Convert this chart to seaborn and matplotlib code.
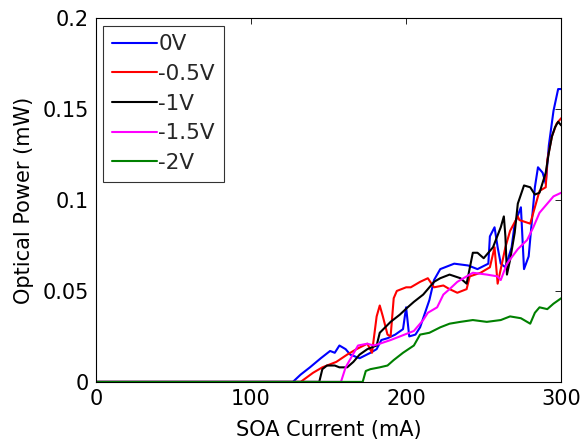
import matplotlib
matplotlib.use("Agg")
import matplotlib.pyplot as plt
import seaborn as sns
import pandas as pd

sns.set_theme(style="white")
plt.rcParams['font.family'] = ['DejaVu Sans']

# SOA current (mA) / optical power (mW)
x_0v = [0, 127, 132, 138, 145, 151, 154, 157, 161, 164, 170, 177, 181, 184, 188, 193, 198, 200, 202,
        206, 209, 215, 218, 222, 231, 240, 246, 253, 254, 257, 259, 261, 264, 268, 270, 274, 276,
        279, 283, 285, 288, 290, 292, 295, 298, 300]
y_0v = [0, 0, 0.004, 0.008, 0.013, 0.017, 0.016, 0.020, 0.018, 0.015, 0.013, 0.016, 0.018, 0.023,
        0.024, 0.026, 0.029, 0.041, 0.025, 0.026, 0.030, 0.045, 0.056, 0.062, 0.065, 0.064, 0.062,
        0.065, 0.080, 0.085, 0.074, 0.065, 0.063, 0.074, 0.087, 0.096, 0.062, 0.069, 0.107, 0.118,
        0.115, 0.109, 0.130, 0.149, 0.161, 0.161]

x_05v = [0, 132, 140, 146, 155, 162, 168, 175, 178, 181, 183, 185, 188, 190, 192, 194, 200, 203,
         209, 214, 218, 224, 228, 233, 239, 241, 248, 254, 257, 259, 261, 264, 267, 272, 273, 280,
         283, 286, 290, 291, 294, 297, 300]
y_05v = [0, 0, 0.005, 0.008, 0.011, 0.015, 0.018, 0.021, 0.016, 0.036, 0.042, 0.036, 0.026, 0.025,
         0.046, 0.050, 0.052, 0.052, 0.055, 0.057, 0.052, 0.053, 0.051, 0.049, 0.051, 0.058, 0.060,
         0.063, 0.074, 0.054, 0.062, 0.074, 0.083, 0.091, 0.089, 0.087, 0.096, 0.105, 0.107, 0.122,
         0.135, 0.142, 0.145]

x_1v = [0, 144, 146, 149, 154, 157, 162, 166, 170, 175, 181, 183, 190, 196, 201, 205, 211, 218,
        222, 228, 235, 239, 243, 246, 250, 256, 261, 263, 264, 265, 267, 270, 272, 276, 280, 283,
        286, 290, 292, 294, 296, 298, 300]
y_1v = [0, 0, 0.007, 0.009, 0.009, 0.008, 0.008, 0.011, 0.015, 0.018, 0.020, 0.027, 0.033, 0.037,
        0.041, 0.044, 0.048, 0.055, 0.057, 0.059, 0.057, 0.054, 0.071, 0.071, 0.068, 0.074, 0.085,
        0.091, 0.080, 0.059, 0.067, 0.082, 0.098, 0.108, 0.107, 0.103, 0.104, 0.115, 0.126, 0.135,
        0.140, 0.143, 0.141]

x_15v = [0, 158, 161, 165, 169, 175, 179, 183, 190, 196, 205, 211, 214, 220, 224, 228, 233, 239,
         243, 252, 259, 261, 265, 272, 278, 282, 284, 286, 291, 295, 300]
y_15v = [0, 0, 0.008, 0.014, 0.020, 0.021, 0.020, 0.021, 0.023, 0.025, 0.028, 0.034, 0.038, 0.041,
         0.048, 0.051, 0.055, 0.058, 0.060, 0.059, 0.058, 0.056, 0.065, 0.073, 0.078, 0.085, 0.089,
         0.093, 0.098, 0.102, 0.104]

x_2v = [0, 172, 174, 177, 183, 188, 192, 198, 205, 209, 215, 222, 228, 235, 243, 252, 261, 267,
        274, 280, 283, 286, 291, 295, 300]
y_2v = [0, 0, 0.006, 0.007, 0.008, 0.009, 0.012, 0.016, 0.020, 0.026, 0.027, 0.030, 0.032, 0.033,
        0.034, 0.033, 0.034, 0.036, 0.035, 0.032, 0.038, 0.041, 0.040, 0.043, 0.046]

labels = ["0V", "-0.5V", "-1V", "-1.5V", "-2V"]
colors = ["#0000ff", "#ff0000", "#000000", "#ff00ff", "#008000"]
xs = [x_0v, x_05v, x_1v, x_15v, x_2v]
ys = [y_0v, y_05v, y_1v, y_15v, y_2v]

frames = []
for lab, xv, yv in zip(labels, xs, ys):
    frames.append(pd.DataFrame({"current": xv, "power": yv, "bias": lab}))
df = pd.concat(frames, ignore_index=True)

fig = plt.figure(figsize=(5.81, 4.42), dpi=100)
ax = fig.add_axes([0.165, 0.136, 0.801, 0.823])
sns.lineplot(data=df, x="current", y="power", hue="bias", hue_order=labels,
             palette=colors, linewidth=1.5, sort=False, estimator=None, ax=ax)

ax.set_xlim(0, 300)
ax.set_ylim(0, 0.2)
ax.set_xticks([0, 100, 200, 300])
ax.set_yticks([0, 0.05, 0.1, 0.15, 0.2])
ax.set_yticklabels(["0", "0.05", "0.1", "0.15", "0.2"])
ax.set_xlabel("SOA Current (mA)", fontsize=15, labelpad=8, color="black")
ax.set_ylabel("Optical Power (mW)", fontsize=15, labelpad=6, color="black")
ax.tick_params(direction="in", top=True, right=True, length=4, width=0.6,
               labelsize=15, colors="black", pad=5)
for sp in ax.spines.values():
    sp.set_color("black")
    sp.set_linewidth(0.8)

leg = ax.legend(loc="upper left", fontsize=15.5, frameon=True, fancybox=False,
                handlelength=2.1, handletextpad=0.05, labelspacing=0.45,
                borderpad=0.4, borderaxespad=0.35)
leg.get_frame().set_edgecolor("black")
leg.get_frame().set_linewidth(0.8)
for line in leg.get_lines():
    line.set_linewidth(1.5)

fig.savefig("out.png", dpi=100)
